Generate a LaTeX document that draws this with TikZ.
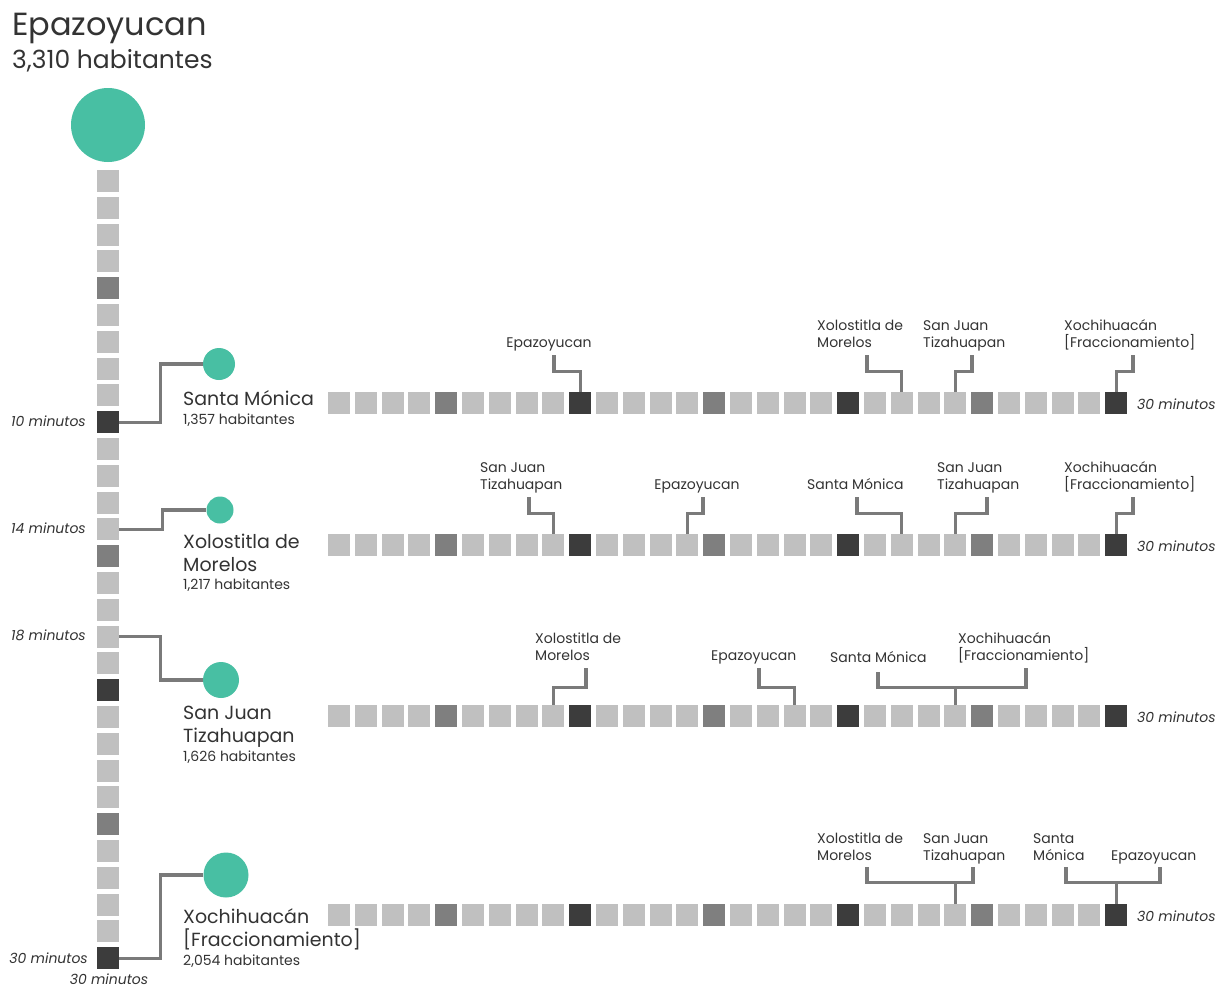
\documentclass[tikz,border=0pt]{standalone}
\usepackage{fontspec}
\setmainfont{Poppins}
\definecolor{sqlight}{HTML}{C0C0C0}
\definecolor{sqmid}{HTML}{7F7F7F}
\definecolor{sqdark}{HTML}{3C3C3C}
\definecolor{greenc}{HTML}{48BFA3}
\definecolor{linec}{HTML}{7A7A7A}
\definecolor{txt}{HTML}{333333}
\tikzset{
  sq/.style={rectangle, draw=none, minimum size=22pt, inner sep=0pt},
  circ/.style={circle, draw=none, fill=greenc, inner sep=0pt},
  conn/.style={draw=linec, line width=3.2pt, line join=miter, line cap=butt},
  lbl/.style={inner sep=0pt, text=txt, align=left, font=\fontsize{14}{17}\selectfont},
  placename/.style={inner sep=0pt, text=txt, align=left, font=\fontsize{19}{23}\selectfont},
  hab/.style={inner sep=0pt, text=txt, font=\fontsize{14}{17}\selectfont},
  mins/.style={inner sep=0pt, text=txt, font=\fontsize{14}{17}\selectfont\itshape},
}
\begin{document}
\begin{tikzpicture}[x=1pt, y=-1pt]
\useasboundingbox[fill=white] (0,0) rectangle (1221,989);

% title
\node[inner sep=0pt, text=txt, anchor=base west, font=\fontsize{32}{36}\selectfont] (title) at (12,35) {Epazoyucan};
\node[inner sep=0pt, text=txt, anchor=base west, font=\fontsize{25}{30}\selectfont] (titlehab) at (12,68) {3,310 habitantes};

% vertical column
\foreach \i in {1,...,30}{%
  \pgfmathtruncatemacro\a{mod(\i,5)}%
  \pgfmathtruncatemacro\b{mod(\i,10)}%
  \ifnum\b=0 \def\sqc{sqdark}\else\ifnum\a=0 \def\sqc{sqmid}\else\def\sqc{sqlight}\fi\fi
  \node[sq, fill=\sqc] (c\i) at (108,{181+(\i-1)*26.8}) {};
}

% horizontal rows
\foreach \r/\y in {1/403,2/545,3/716,4/915}{%
  \foreach \i in {1,...,30}{%
    \pgfmathtruncatemacro\a{mod(\i,5)}%
    \pgfmathtruncatemacro\b{mod(\i,10)}%
    \ifnum\b=0 \def\sqc{sqdark}\else\ifnum\a=0 \def\sqc{sqmid}\else\def\sqc{sqlight}\fi\fi
    \node[sq, fill=\sqc] (r\r s\i) at ({339+(\i-1)*26.8},\y) {};
  }
}

% circles
\node[circ, minimum size=74pt] (epa) at (108,125) {};
\node[circ, minimum size=32pt] (sm) at (219,364) {};
\node[circ, minimum size=27pt] (xo) at (220,510) {};
\node[circ, minimum size=36pt] (sj) at (221,680) {};
\node[circ, minimum size=45pt] (xc) at (226,875) {};

% column connectors
\draw[conn] (c10.east) -- ++(41,0) |- (sm.west);
\draw[conn] (c14.east) -- ++(43,0) |- (xo.west);
\draw[conn] (c18.east) -- ++(41,0) |- (sj.west);
\draw[conn] (c30.east) -- ++(41,0) |- (xc.west);

% place names (base = last line)
\node[placename, anchor=base west] (smn) at (183,405) {Santa Mónica};
\node[hab, anchor=base west] (smh) at (183,424) {1,357 habitantes};
\node[placename, anchor=base west] (xon) at (183,571) {Xolostitla de\\Morelos};
\node[hab, anchor=base west] (xoh) at (183,589) {1,217 habitantes};
\node[placename, anchor=base west] (sjn) at (183,742) {San Juan\\Tizahuapan};
\node[hab, anchor=base west] (sjh) at (183,761) {1,626 habitantes};
\node[placename, anchor=base west] (xcn) at (183,946) {Xochihuacán\\{[Fraccionamiento]}};
\node[hab, anchor=base west] (xch) at (183,965) {2,054 habitantes};

% minute labels
\node[mins, anchor=base east] (m10) at (86,426) {10 minutos};
\node[mins, anchor=base east] (m14) at (86,533) {14 minutos};
\node[mins, anchor=base east] (m18) at (86,640) {18 minutos};
\node[mins, anchor=base east] (m30) at (88,963) {30 minutos};
\node[mins, anchor=base] (m30b) at (109,984) {30 minutos};
\node[mins, anchor=base west] (r1m) at (1137,409) {30 minutos};
\node[mins, anchor=base west] (r2m) at (1137,551) {30 minutos};
\node[mins, anchor=base west] (r3m) at (1137,722) {30 minutos};
\node[mins, anchor=base west] (r4m) at (1137,921) {30 minutos};

% row 1 callouts
\node[lbl, anchor=base] (l1a) at (549,347) {Epazoyucan};
\node[lbl, anchor=base west] (l1b) at (817,347) {Xolostitla de\\Morelos};
\node[lbl, anchor=base west] (l1c) at (923,347) {San Juan\\Tizahuapan};
\node[lbl, anchor=base west] (l1d) at (1064,347) {Xochihuacán\\{[Fraccionamiento]}};
\coordinate (t1a) at (554,355);
\coordinate (t1b) at (867,355);
\coordinate (t1c) at (972,355);
\coordinate (t1d) at (1133,355);
\draw[conn] (r1s10.north) -- ++(0,-20) -| (t1a);
\draw[conn] (r1s22.north) -- ++(0,-20) -| (t1b);
\draw[conn] (r1s24.north) -- ++(0,-20) -| (t1c);
\draw[conn] (r1s30.north) -- ++(0,-20) -| (t1d);

% row 2 callouts
\node[lbl, anchor=base west] (l2a) at (480,489) {San Juan\\Tizahuapan};
\node[lbl, anchor=base] (l2b) at (697,489) {Epazoyucan};
\node[lbl, anchor=base west] (l2c) at (807,489) {Santa Mónica};
\node[lbl, anchor=base west] (l2d) at (937,489) {San Juan\\Tizahuapan};
\node[lbl, anchor=base west] (l2e) at (1064,489) {Xochihuacán\\{[Fraccionamiento]}};
\coordinate (t2a) at (529,497);
\coordinate (t2b) at (703,497);
\coordinate (t2c) at (857,497);
\coordinate (t2d) at (987,497);
\coordinate (t2e) at (1133,497);
\draw[conn] (r2s9.north) -- ++(0,-20) -| (t2a);
\draw[conn] (r2s14.north) -- ++(0,-20) -| (t2b);
\draw[conn] (r2s22.north) -- ++(0,-20) -| (t2c);
\draw[conn] (r2s24.north) -- ++(0,-20) -| (t2d);
\draw[conn] (r2s30.north) -- ++(0,-20) -| (t2e);

% row 3 callouts
\node[lbl, anchor=base west] (l3a) at (535,660) {Xolostitla de\\Morelos};
\node[lbl, anchor=base west] (l3b) at (711,660) {Epazoyucan};
\node[lbl, anchor=base west] (l3c) at (830,662) {Santa Mónica};
\node[lbl, anchor=base west] (l3d) at (958,660) {Xochihuacán\\{[Fraccionamiento]}};
\coordinate (t3a) at (586,668);
\coordinate (t3b) at (759,668);
\coordinate (t3c) at (878,672);
\coordinate (t3d) at (1026,668);
\draw[conn] (r3s9.north) -- ++(0,-17) -| (t3a);
\draw[conn] (r3s18.north) -- ++(0,-17) -| (t3b);
\path (r3s24.north) ++(0,-17) coordinate (k3);
\draw[conn] (r3s24.north) -- (k3);
\draw[conn] (t3c) -- (t3c |- k3) -- (t3d |- k3) -- (t3d);

% row 4 callouts
\node[lbl, anchor=base west] (l4a) at (817,860) {Xolostitla de\\Morelos};
\node[lbl, anchor=base west] (l4b) at (923,860) {San Juan\\Tizahuapan};
\node[lbl, anchor=base west] (l4c) at (1033,860) {Santa\\Mónica};
\node[lbl, anchor=base west] (l4d) at (1111,860) {Epazoyucan};
\coordinate (t4a) at (867,867);
\coordinate (t4b) at (973,867);
\coordinate (t4c) at (1066,867);
\coordinate (t4d) at (1160,867);
\path (r4s24.north) ++(0,-21) coordinate (k4a);
\path (r4s30.north) ++(0,-21) coordinate (k4b);
\draw[conn] (r4s24.north) -- (k4a);
\draw[conn] (t4a) -- (t4a |- k4a) -- (t4b |- k4a) -- (t4b);
\draw[conn] (r4s30.north) -- (k4b);
\draw[conn] (t4c) -- (t4c |- k4b) -- (t4d |- k4b) -- (t4d);
\end{tikzpicture}
\end{document}
